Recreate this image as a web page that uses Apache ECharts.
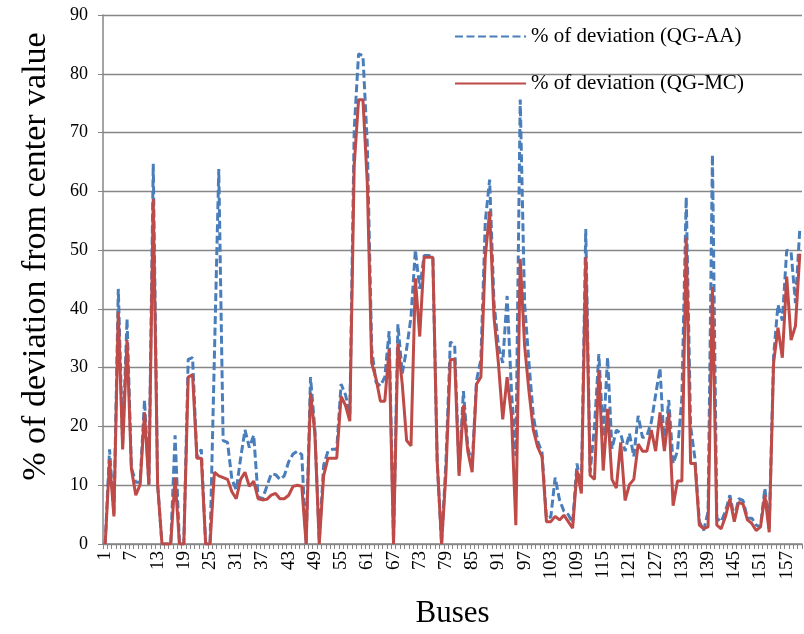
<!DOCTYPE html>
<html>
<head>
<meta charset="utf-8">
<script src="https://cdn.jsdelivr.net/npm/echarts@6/dist/echarts.min.js"></script>
<style>
html,body{margin:0;padding:0;background:#fff;}
#chart{width:804px;height:634px;}
</style>
</head>
<body>
<div id="chart"></div>
<script>
// Bus numbers 1..160
const buses = [];
for (let i = 1; i <= 160; i++) buses.push(String(i));

const yTicks = [0, 10, 20, 30, 40, 50, 60, 70, 80, 90];

const seriesNames = ['% of deviation (QG-AA)', '% of deviation (QG-MC)'];

// % of deviation (QG-AA)
const devAA = [
  0, 16.1, 5.0, 43.4, 17.0, 38.3, 13.0, 10.5, 10.5, 24.5,
  10.1, 64.7, 10.1, 0, 0, 0, 18.5, 0, 0, 31.4,
  31.7, 14.6, 16.1, 0, 0, 32.0, 63.8, 17.6, 17.3, 11.0,
  9.2, 14.6, 19.4, 16.4, 18.5, 8.0, 7.7, 9.8, 11.9, 11.8,
  11.0, 11.6, 14.0, 15.3, 15.8, 15.2, 0, 28.4, 19.4, 0.5,
  13.4, 15.8, 16.1, 16.1, 27.2, 25.4, 22.0, 70.5, 83.4, 83.1,
  68.0, 33.2, 27.5, 26.9, 28.4, 36.2, 0.5, 37.4, 29.0, 33.2,
  38.6, 50.0, 43.4, 49.1, 49.1, 48.8, 14.0, 0, 14.0, 34.4,
  33.8, 12.2, 26.0, 16.4, 13.4, 27.8, 31.4, 54.8, 62.0, 41.0,
  33.8, 30.8, 42.2, 26.0, 15.0, 75.6, 41.0, 30.8, 21.8, 17.5,
  15.5, 4.4, 4.6, 11.3, 7.5, 5.6, 5.0, 3.6, 13.7, 9.2,
  53.6, 12.2, 20.0, 32.3, 18.2, 31.7, 16.2, 19.4, 18.8, 15.8,
  18.8, 14.9, 21.8, 18.1, 18.4, 20.7, 25.4, 29.9, 16.2, 24.5,
  13.7, 15.8, 24.8, 59.0, 20.0, 14.5, 3.8, 2.3, 5.5, 66.2,
  4.4, 3.8, 5.6, 8.3, 4.4, 7.7, 7.4, 4.4, 4.4, 3.2,
  2.9, 9.5, 2.6, 32.0, 40.7, 38.0, 50.0, 49.7, 41.0, 53.6
];

// % of deviation (QG-MC)
const devMC = [
  0, 14.3, 4.7, 39.5, 16.1, 34.7, 12.8, 8.3, 10.1, 22.4,
  10.1, 58.7, 10.1, 0, 0, 0, 11.3, 0, 0, 28.4,
  28.8, 14.6, 14.6, 0, 0, 12.2, 11.6, 11.3, 11.0, 8.9,
  7.7, 11.0, 12.2, 9.8, 10.7, 7.7, 7.5, 7.6, 8.3, 8.6,
  7.7, 7.7, 8.3, 9.8, 10.0, 9.8, 0, 25.7, 18.8, 0,
  11.6, 14.6, 14.6, 14.6, 25.1, 23.6, 20.9, 64.4, 75.6, 75.6,
  61.4, 30.8, 28.1, 24.3, 24.3, 33.2, 0, 34.1, 27.2, 17.6,
  16.7, 45.2, 35.3, 48.8, 48.8, 48.8, 14.0, 0, 12.0, 31.4,
  31.4, 11.6, 23.6, 15.8, 12.2, 27.2, 28.4, 48.8, 56.6, 38.6,
  30.8, 21.2, 28.4, 21.8, 3.2, 48.5, 33.8, 26.0, 19.4, 16.5,
  14.8, 3.8, 3.8, 4.7, 4.1, 4.9, 3.8, 2.7, 12.5, 8.6,
  48.8, 11.7, 11.0, 29.6, 12.5, 23.0, 11.0, 9.5, 17.3, 7.4,
  10.1, 11.0, 17.0, 15.8, 15.8, 19.4, 15.8, 22.4, 15.8, 22.4,
  6.5, 10.7, 10.7, 52.1, 13.7, 13.7, 3.2, 2.6, 2.9, 43.7,
  3.2, 2.6, 4.7, 7.7, 3.8, 7.1, 6.8, 4.1, 3.5, 2.3,
  2.9, 8.3, 2.0, 30.8, 36.8, 31.7, 45.5, 34.7, 37.1, 49.4
];

const FONT = '"Liberation Serif", "Times New Roman", serif';
const BLUE = '#4A7EBB';
const RED = '#BE4B48';
const GRAY = '#868686';

const chart = echarts.init(document.getElementById('chart'), null, {renderer: 'canvas'});
chart.setOption({
  animation: false,
  backgroundColor: '#fff',
  grid: {left: 103, right: 2, top: 15, bottom: 85, containLabel: false},
  legend: {
    orient: 'vertical',
    left: 449,
    top: 21,
    itemWidth: 71,
    itemHeight: 14,
    itemGap: 26,
    itemStyle: {opacity: 0},
    textStyle: {fontFamily: FONT, fontSize: 21, color: '#000'},
    data: seriesNames
  },
  xAxis: {
    type: 'category',
    data: buses,
    boundaryGap: true,
    name: 'Buses',
    nameLocation: 'middle',
    nameGap: 54,
    nameTextStyle: {fontFamily: FONT, fontSize: 31, color: '#000'},
    axisLine: {lineStyle: {color: GRAY, width: 1.5}},
    axisTick: {show: true, interval: 0, length: 5, lineStyle: {color: GRAY, width: 1}},
    axisLabel: {interval: 5, rotate: 90, margin: 7, fontFamily: FONT, fontSize: 19, color: '#000'},
    splitLine: {show: false}
  },
  yAxis: {
    type: 'value',
    min: yTicks[0],
    max: yTicks[yTicks.length - 1],
    interval: 10,
    name: '% of deviation from center value',
    nameLocation: 'middle',
    nameGap: 50,
    nameTextStyle: {fontFamily: FONT, fontSize: 34, color: '#000', padding: [0, 0, 0, 46]},
    axisLine: {show: true, lineStyle: {color: GRAY, width: 1.5}},
    axisTick: {show: true, length: 5, lineStyle: {color: GRAY, width: 1}},
    axisLabel: {margin: 15, fontFamily: FONT, fontSize: 18, color: '#000'},
    splitLine: {show: true, lineStyle: {color: GRAY, width: 1.3}}
  },
  series: [
    {
      name: seriesNames[0],
      type: 'line',
      data: devAA,
      symbol: 'none',
      lineStyle: {color: BLUE, width: 3, type: [8, 3.5]},
      itemStyle: {color: BLUE},
      z: 2
    },
    {
      name: seriesNames[1],
      type: 'line',
      data: devMC,
      symbol: 'none',
      lineStyle: {color: RED, width: 3},
      itemStyle: {color: RED},
      z: 3
    }
  ]
});
</script>
</body>
</html>
